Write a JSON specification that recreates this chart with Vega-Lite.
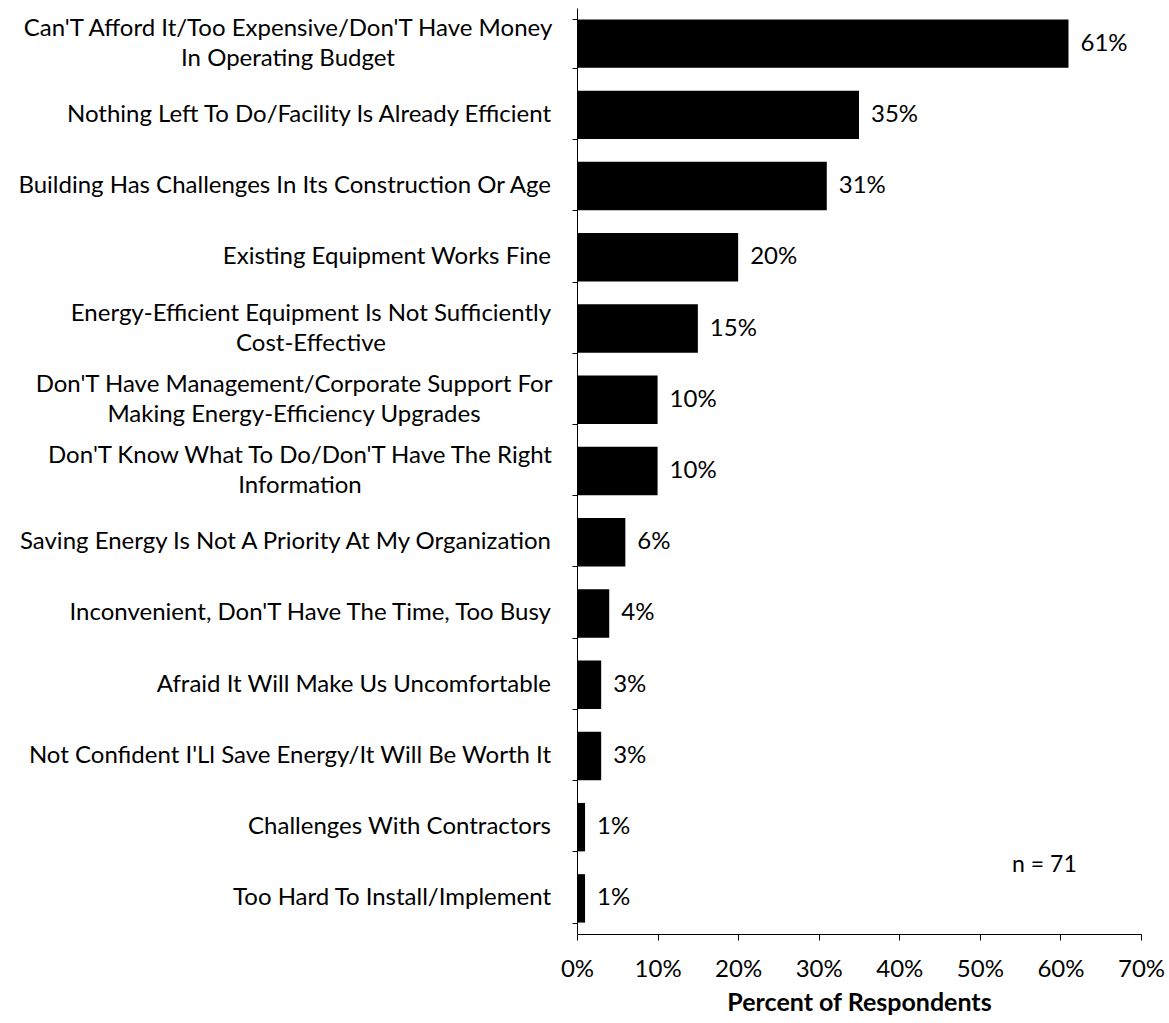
{
  "$schema": "https://vega.github.io/schema/vega-lite/v6.json",
  "autosize": {"type": "none"},
  "width": 564,
  "height": 926,
  "padding": {"left": 577, "top": 8, "right": 28, "bottom": 89},
  "background": "white",
  "config": {
    "font": "Lato",
    "view": {"stroke": null},
    "axis": {"domainColor": "black", "tickColor": "black", "labelColor": "black", "titleColor": "black", "grid": false}
  },
  "data": {
    "values": [
      {"reason": "Can'T Afford It/Too Expensive/Don'T Have Money|In Operating Budget", "pct": 61},
      {"reason": "Nothing Left To Do/Facility Is Already Efficient", "pct": 35},
      {"reason": "Building Has Challenges In Its Construction Or Age", "pct": 31},
      {"reason": "Existing Equipment Works Fine", "pct": 20},
      {"reason": "Energy-Efficient Equipment Is Not Sufficiently|Cost-Effective", "pct": 15},
      {"reason": "Don'T Have Management/Corporate Support For|Making Energy-Efficiency Upgrades", "pct": 10},
      {"reason": "Don'T Know What To Do/Don'T Have The Right|Information", "pct": 10},
      {"reason": "Saving Energy Is Not A Priority At My Organization", "pct": 6},
      {"reason": "Inconvenient, Don'T Have The Time, Too Busy", "pct": 4},
      {"reason": "Afraid It Will Make Us Uncomfortable", "pct": 3},
      {"reason": "Not Confident I'Ll Save Energy/It Will Be Worth It", "pct": 3},
      {"reason": "Challenges With Contractors", "pct": 1},
      {"reason": "Too Hard To Install/Implement", "pct": 1}
    ]
  },
  "encoding": {
    "y": {
      "field": "reason",
      "type": "nominal",
      "sort": null,
      "scale": {"paddingInner": 0.32, "paddingOuter": 0.16},
      "axis": {
        "title": null,
        "tickBand": "extent",
        "tickSize": 5,
        "labels": false
      }
    },
    "x": {
      "field": "pct",
      "type": "quantitative",
      "scale": {"domain": [0, 70]},
      "axis": {
        "title": "Percent of Respondents",
        "titleFontSize": 25,
        "titleFontWeight": "bold",
        "titlePadding": 9,
        "values": [0, 10, 20, 30, 40, 50, 60, 70],
        "labelExpr": "datum.value + '%'",
        "labelFontSize": 24,
        "labelPadding": 17,
        "labelFlush": false,
        "tickSize": 6
      }
    }
  },
  "layer": [
    {"mark": {"type": "bar", "color": "black"}},
    {
      "mark": {"type": "text", "align": "left", "dx": 12, "fontSize": 24, "color": "black", "text": {"expr": "datum.pct + '%'"}}
    },
    {
      "mark": {
        "type": "text",
        "fontSize": 24,
        "lineHeight": 30,
        "lineBreak": "|",
        "color": "black",
        "baseline": "middle",
        "align": {"expr": "indexof(datum.reason, '|') < 0 ? 'right' : 'center'"},
        "dy": {"expr": "indexof(datum.reason, '|') < 0 ? 0 : -15"},
        "dx": {"expr": "indexof(datum.reason, '|') < 0 ? -26 : indexof(datum.reason, 'Afford') >= 0 ? -289 : indexof(datum.reason, 'Sufficiently') >= 0 ? -266 : indexof(datum.reason, 'Management') >= 0 ? -283 : -277"}
      },
      "encoding": {
        "x": {"datum": 0},
        "text": {"field": "reason"}
      }
    },
    {
      "data": {"values": [{"note": "n = 71", "x": 54, "reason": "Too Hard To Install/Implement"}]},
      "mark": {"type": "text", "align": "left", "dy": -33, "fontSize": 23, "color": "black"},
      "encoding": {
        "x": {"field": "x", "type": "quantitative"},
        "y": {"field": "reason", "type": "nominal", "sort": null},
        "text": {"field": "note"}
      }
    }
  ]
}
